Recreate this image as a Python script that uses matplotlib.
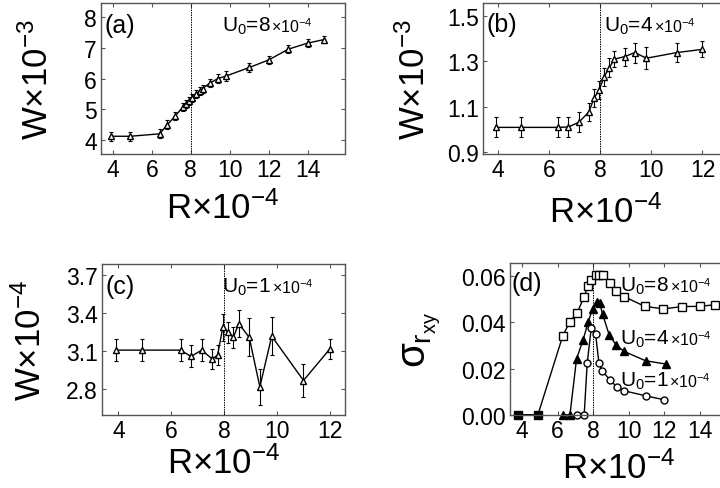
import numpy as np
import matplotlib
matplotlib.use('Agg')
import matplotlib.pyplot as plt

plt.rcParams['font.family'] = ['Liberation Sans', 'DejaVu Sans']
plt.rcParams['mathtext.fontset'] = 'custom'
plt.rcParams['mathtext.rm'] = 'Liberation Sans'
plt.rcParams['mathtext.it'] = 'Liberation Sans'
plt.rcParams['mathtext.bf'] = 'Liberation Sans:bold'

# panel (a), U0 = 8e-4
r_a = [3.9, 4.9, 6.4, 6.8, 7.2, 7.6, 7.75, 7.9, 8.05, 8.25, 8.45, 8.6, 9.0, 9.4, 9.8, 11.0, 12.0, 13.0, 14.0, 14.8]
w_a = [4.11, 4.11, 4.19, 4.49, 4.77, 5.07, 5.17, 5.26, 5.37, 5.48, 5.59, 5.67, 5.86, 6.0, 6.08, 6.36, 6.61, 6.96, 7.16, 7.27]
e_a = [0.15, 0.15, 0.15, 0.15, 0.14, 0.14, 0.13, 0.13, 0.13, 0.13, 0.13, 0.13, 0.14, 0.15, 0.15, 0.15, 0.14, 0.14, 0.13, 0.12]

# panel (b), U0 = 4e-4
r_b = [3.9, 4.9, 6.35, 6.75, 7.15, 7.55, 7.75, 7.95, 8.15, 8.35, 8.55, 8.95, 9.35, 9.8, 11.0, 12.0]
w_b = [1.01, 1.01, 1.01, 1.012, 1.032, 1.078, 1.138, 1.175, 1.233, 1.273, 1.31, 1.321, 1.339, 1.314, 1.339, 1.353]
e_b = [0.044, 0.044, 0.044, 0.044, 0.044, 0.04, 0.04, 0.04, 0.04, 0.04, 0.035, 0.04, 0.044, 0.048, 0.04, 0.035]

# panel (c), U0 = 1e-4
r_c = [3.9, 4.9, 6.35, 6.75, 7.15, 7.55, 7.75, 7.95, 8.15, 8.35, 8.55, 8.95, 9.35, 9.8, 11.0, 12.0]
w_c = [3.11, 3.11, 3.11, 3.06, 3.11, 3.04, 3.07, 3.29, 3.25, 3.21, 3.32, 3.21, 2.82, 3.22, 2.87, 3.12]
e_c = [0.087, 0.087, 0.087, 0.087, 0.087, 0.08, 0.08, 0.108, 0.08, 0.08, 0.105, 0.15, 0.14, 0.15, 0.13, 0.08]

# panel (d), sigma_rxy
r_sq = [3.8, 4.9, 6.3, 6.7, 7.1, 7.5, 7.7, 7.9, 8.15, 8.35, 8.55, 8.95, 9.3, 9.75, 10.9, 11.95, 13.0, 14.0, 14.85]
s_sq = [0, 0, 0.0343, 0.0404, 0.0441, 0.0512, 0.0557, 0.0584, 0.0606, 0.0607, 0.0607, 0.0571, 0.0538, 0.0512, 0.047, 0.0459, 0.0469, 0.047, 0.0477]
r_tri = [6.3, 6.7, 7.07, 7.44, 7.72, 7.97, 8.2, 8.38, 8.53, 8.9, 9.28, 9.73, 10.95, 12.07]
s_tri = [0, 0, 0.0242, 0.0325, 0.0401, 0.0459, 0.049, 0.0483, 0.0437, 0.0347, 0.0304, 0.0275, 0.0234, 0.022]
r_cir = [7.1, 7.5, 7.67, 7.9, 8.14, 8.33, 8.51, 8.94, 9.32, 9.73, 10.95, 11.98]
s_cir = [0, 0, 0.0224, 0.0378, 0.035, 0.0223, 0.0191, 0.0151, 0.0122, 0.0104, 0.0082, 0.0065]

W, H = 720, 489
fig = plt.figure(figsize=(W / 100., H / 100.), dpi=100)


def px_axes(l, t, r, b):
    return fig.add_axes([l / W, 1 - b / H, (r - l) / W, (b - t) / H])


def style(ax):
    for s in ax.spines.values():
        s.set_color('#555555')
        s.set_linewidth(1.0)
    ax.tick_params(direction='in', top=True, right=True, length=3, width=0.8,
                   color='#555555', labelsize=16.5, pad=3)
    ax.axvline(8, color='k', lw=0.7, ls=(0, (1.5, 1)))


def ulabel(ax, x, y, num):
    t = ax.text(x, y, r'U$_0$=' + num, transform=ax.transAxes, fontsize=15, va='baseline')
    ax.annotate(r'$\times$10$^{-4}$', xy=(1, 0), xycoords=t, xytext=(0.5, 2.8),
                textcoords='offset points', fontsize=11.5, va='baseline', ha='left')


def w_panel(ax, r, w, e, xticks, xlim, ylim, yticks, ylab, tag, num, ylx, xly):
    style(ax)
    ax.errorbar(r, w, yerr=e, color='k', lw=1, marker='^', ms=4.5, mfc='white', mec='k',
                capsize=1.5, elinewidth=0.8, capthick=0.8)
    ax.set_xticks(xticks)
    ax.set_yticks(yticks)
    ax.set_xlim(*xlim)
    ax.set_ylim(*ylim)
    ax.set_ylabel(ylab, fontsize=25)
    ax.yaxis.set_label_coords(ylx, 0.5)
    ax.set_xlabel(r'R$\times$10$^{-4}$', fontsize=25)
    ax.xaxis.set_label_coords(0.5, xly)
    ax.text(0.016, 0.935, tag, transform=ax.transAxes, fontsize=18, va='top')
    ulabel(ax, 0.495, 0.817, num)


axa = px_axes(101, 4, 345, 155)
w_panel(axa, r_a, w_a, e_a, [4, 6, 8, 10, 12, 14], (3.4, 15.9), (3.53, 8.47), [4, 5, 6, 7, 8],
        r'W$\times$10$^{-3}$', '(a)', '8', -0.19, -0.243)

axb = px_axes(483, 3.5, 728, 155)
w_panel(axb, r_b, w_b, e_b, [4, 6, 8, 10, 12], (3.4, 13.0), (0.893, 1.559), [0.9, 1.1, 1.3, 1.5],
        r'W$\times$10$^{-3}$', '(b)', '4', -0.21, -0.264)
axb.set_yticklabels(['0.9', '1.1', '1.3', '1.5'])

axc = px_axes(101.7, 265, 345, 415.7)
w_panel(axc, r_c, w_c, e_c, [4, 6, 8, 10, 12], (3.37, 12.57), (2.6, 3.79), [2.8, 3.1, 3.4, 3.7],
        r'W$\times$10$^{-4}$', '(c)', '1', -0.22, -0.2)

axd = px_axes(510, 264, 755, 415.7)
style(axd)
sq_r = np.array(r_sq)
sq_v = np.array(s_sq)
zero = sq_v == 0
axd.plot(r_sq, s_sq, 'k-', lw=1)
axd.plot(sq_r[~zero], sq_v[~zero], 's', ms=5.5, mfc='white', mec='k', clip_on=False)
axd.plot(sq_r[zero], sq_v[zero], 's', ms=5.5, mfc='k', mec='k', clip_on=False)
axd.plot(r_tri, s_tri, 'k-', marker='^', ms=5.5, mfc='k', mec='k', lw=1, clip_on=False)
axd.plot(r_cir, s_cir, 'k-', marker='o', ms=5, mfc='white', mec='k', lw=1, clip_on=False)
axd.set_xticks([4, 6, 8, 10, 12, 14])
axd.set_yticks([0, 0.02, 0.04, 0.06])
axd.set_yticklabels(['0.00', '0.02', '0.04', '0.06'])
axd.set_xlim(3.33, 17.1)
axd.set_ylim(0, 0.0658)
axd.set_ylabel(r'$\sigma_{r_{xy}}$', fontsize=29)
axd.yaxis.set_label_coords(-0.275, 0.5)
axd.set_xlabel(r'R$\times$10$^{-4}$', fontsize=25)
axd.xaxis.set_label_coords(0.445, -0.237)
axd.text(0.007, 0.945, '(d)', transform=axd.transAxes, fontsize=18, va='top')
ulabel(axd, 0.449, 0.817, '8')
ulabel(axd, 0.449, 0.466, '4')
ulabel(axd, 0.449, 0.191, '1')

fig.savefig('out.png', dpi=100)
